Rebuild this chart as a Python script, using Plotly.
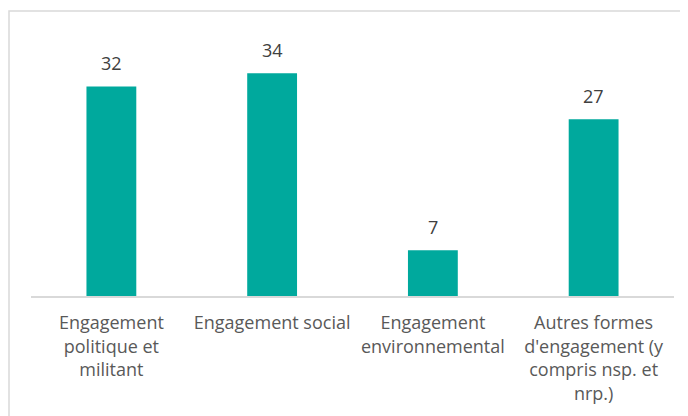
import plotly.graph_objects as go

categories = ["Engagement<br>politique et<br>militant", "Engagement social",
              "Engagement<br>environnemental",
              "Autres formes<br>d'engagement (y<br>compris nsp. et<br>nrp.)"]
values = [32, 34, 7, 27]
labels = ["32", "34", "7", "27"]

# page body has an 8px margin, so the figure is sized to fit the window
W, H = 680, 408
ml, mr, mt, mb = 23, 14, 26, 120
pw = W - ml - mr
ph = H - mt - mb

fig = go.Figure(go.Bar(
    x=categories, y=values,
    marker=dict(color="#00A99D", line=dict(width=0)),
    cliponaxis=False, hoverinfo="skip",
))

for c, v, t in zip(categories, values, labels):
    fig.add_annotation(x=c, y=v, text=t, showarrow=False, yanchor="bottom",
                       yshift=9, font=dict(color="#404040", size=18, family="Open Sans"))

fig.update_layout(
    width=W, height=H,
    margin=dict(l=ml, r=mr, t=mt, b=mb, autoexpand=False),
    plot_bgcolor="white", paper_bgcolor="white",
    bargap=0.69,
    showlegend=False,
    font=dict(family="Open Sans", color="#595959", size=18),
    xaxis=dict(showline=True, linecolor="#D9D9D9", linewidth=1.5,
               ticks="", tickfont=dict(size=18, color="#595959"),
               automargin=False, ticklabelstandoff=10,
               showgrid=False, fixedrange=True),
    yaxis=dict(range=[0, 40], visible=False, showgrid=False, fixedrange=True,
               automargin=False),
    shapes=[dict(type="rect", xref="paper", yref="paper",
                 x0=(1 - ml) / pw, x1=1.2,
                 y0=-0.6, y1=(H - mb - 3) / ph,
                 line=dict(color="#D9D9D9", width=1.5), layer="below")],
)

fig.write_html("out.html")
